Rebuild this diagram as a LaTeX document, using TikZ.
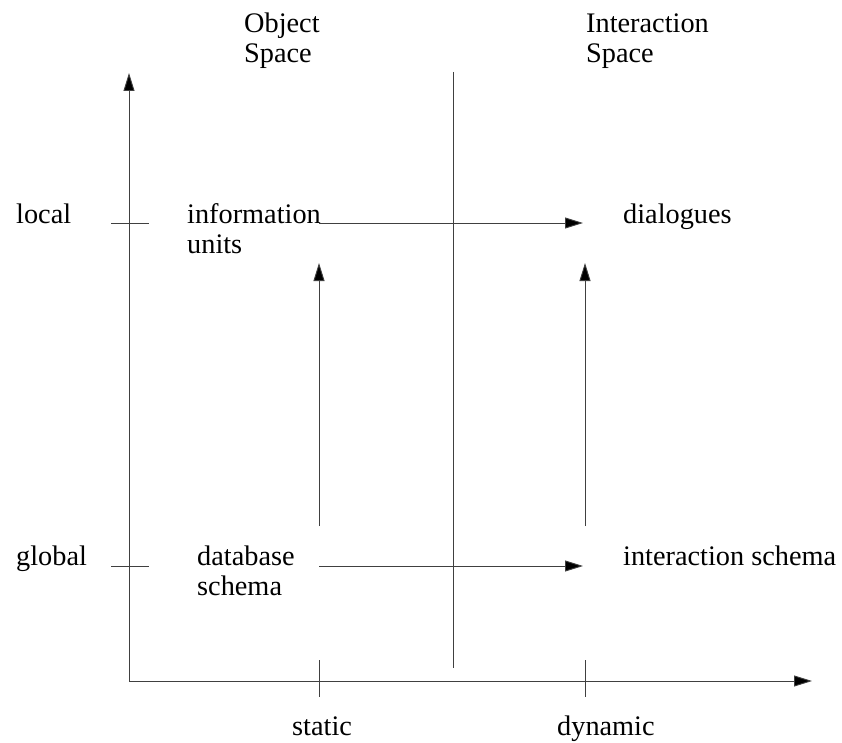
\documentclass[tikz,border=0pt]{standalone}
\usepackage{fontspec}
\setmainfont{Liberation Serif}
\usetikzlibrary{arrows.meta}
\begin{document}
\begin{tikzpicture}[x=1pt,y=-1pt,
  line/.style={draw=black!75,line width=0.9pt},
  arr/.style={line,-{Triangle[length=18pt,width=11pt,fill=black]}},
  lbl/.style={anchor=base west,inner sep=0pt,font=\fontsize{28.3}{30}\selectfont,align=left}]
\useasboundingbox (0,0) rectangle (842,743);

% axes and the divider between the two spaces
\coordinate (origin) at (129,681);
\coordinate (ytop) at (129,73);
\coordinate (xend) at (812,681);
\coordinate (divtop) at (453,72);
\coordinate (divbot) at (453,668);
\draw[arr] (origin) -- (ytop);
\draw[arr] (origin) -- (xend);
\draw[line] (divtop) -- (divbot);

% ticks
\coordinate (tl1) at (111,223); \coordinate (tl2) at (149,223);
\coordinate (tg1) at (111,566); \coordinate (tg2) at (149,566);
\coordinate (ts1) at (319,660); \coordinate (ts2) at (319,697);
\coordinate (td1) at (585,660); \coordinate (td2) at (585,697);
\draw[line] (tl1) -- (tl2);
\draw[line] (tg1) -- (tg2);
\draw[line] (ts1) -- (ts2);
\draw[line] (td1) -- (td2);

% labels (two-line labels are placed by the baseline of their last line)
\node[lbl] (obj) at (244,63) {Object\\Space};
\node[lbl] (inter) at (586,63) {Interaction\\Space};
\node[lbl] (local) at (16,223) {local};
\node[lbl] (global) at (16,565) {global};
\node[lbl] (info) at (187,253) {information\\units};
\node[lbl] (dial) at (623,223) {dialogues};
\node[lbl] (db) at (197,595) {database\\schema};
\node[lbl] (isch) at (623,565) {interaction schema};
\node[lbl] (static) at (292,735) {static};
\node[lbl] (dynamic) at (557,735) {dynamic};

% transitions between the four quadrants
\coordinate (infoE) at (319,223);
\coordinate (dialW) at (583,223);
\coordinate (dbE) at (319,566);
\coordinate (ischW) at (583,566);
\coordinate (sUp1) at (319,526); \coordinate (sUp2) at (319,263);
\coordinate (dUp1) at (585,526); \coordinate (dUp2) at (585,263);
\draw[arr] (infoE) -- (dialW);
\draw[arr] (dbE) -- (ischW);
\draw[arr] (sUp1) -- (sUp2);
\draw[arr] (dUp1) -- (dUp2);
\end{tikzpicture}
\end{document}
